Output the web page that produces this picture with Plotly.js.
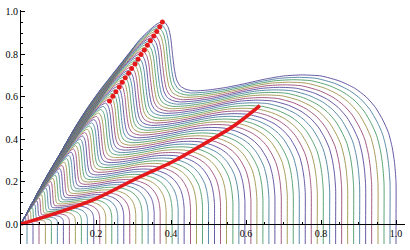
<!DOCTYPE html>
<html>
<head>
<meta charset="utf-8">
<script src="https://cdn.plot.ly/plotly-3.0.1.min.js"></script>
<style>html,body{margin:0;padding:0;background:#fff;}#chart{width:410px;height:250px;}</style>
</head>
<body>
<div id="chart"></div>
<script>
// Outermost curve of the family
const TEMPLATE_X = [0, 0.03, 0.07, 0.11, 0.148, 0.18, 0.211, 0.25, 0.29, 0.317, 0.34, 0.36, 0.372, 0.377, 0.385, 0.393, 0.399, 0.404, 0.409, 0.415, 0.425, 0.44, 0.46, 0.5, 0.55, 0.6, 0.65, 0.7, 0.75, 0.8, 0.85, 0.89, 0.92, 0.945, 0.965, 0.98, 0.99, 0.996, 1.0, 1.0];
const TEMPLATE_Y = [0, 0.1, 0.23, 0.35, 0.467, 0.555, 0.632, 0.72, 0.81, 0.87, 0.91, 0.94, 0.952, 0.955, 0.948, 0.925, 0.88, 0.8, 0.73, 0.68, 0.65, 0.635, 0.628, 0.632, 0.645, 0.663, 0.683, 0.698, 0.703, 0.698, 0.674, 0.64, 0.6, 0.55, 0.49, 0.43, 0.36, 0.29, 0.2, 0];
// How much each template point follows the rising-branch scale (1) vs the plateau scale (0)
const TEMPLATE_W = [1, 1, 1, 1, 1, 1, 1, 1, 1, 1, 1, 1, 1, 1, 0.95, 0.85, 0.65, 0.4, 0.2, 0.08, 0, 0, 0, 0, 0, 0, 0, 0, 0, 0, 0, 0, 0, 0, 0, 0, 0, 0, 0, 0];
// Width (x where each curve turns vertical) and plateau height factor of each curve
const WIDTHS = [0.016,0.032,0.048,0.065,0.081,0.097,0.113,0.129,0.145,0.161,0.177,0.194,0.210,0.226,0.242,0.258,0.274,0.290,0.306,0.323,0.339,0.355,0.371,0.387,0.403,0.419,0.435,0.452,0.468,0.484,0.500,0.516,0.532,0.548,0.565,0.581,0.597,0.613,0.629,0.645,0.661,0.677,0.694,0.710,0.726,0.742,0.758,0.774,0.790,0.806,0.823,0.839,0.855,0.871,0.887,0.903,0.919,0.935,0.952,0.968,0.984,1.000];
const HEIGHTS = [0.0039,0.0100,0.0175,0.0266,0.0361,0.0464,0.0575,0.0691,0.0814,0.0941,0.1074,0.1222,0.1363,0.1511,0.1661,0.1814,0.1971,0.2131,0.2295,0.2471,0.2640,0.2808,0.2982,0.3157,0.3332,0.3510,0.3690,0.3882,0.4066,0.4244,0.4430,0.4612,0.4800,0.4986,0.5179,0.5364,0.5549,0.5741,0.5921,0.6108,0.6294,0.6479,0.6676,0.6859,0.7040,0.7225,0.7404,0.7587,0.7765,0.7942,0.8131,0.8308,0.8481,0.8656,0.8828,0.8999,0.9168,0.9336,0.9512,0.9677,0.9839,1.000];
const CURVE_BOTTOM = -0.2;
// Red peak dots
const PEAK_X = [0.236,0.245,0.253,0.262,0.270,0.278,0.287,0.295,0.304,0.312,0.320,0.329,0.337,0.345,0.354,0.362,0.370,0.377];
const PEAK_Y = [0.580,0.602,0.624,0.646,0.668,0.690,0.711,0.733,0.755,0.777,0.799,0.821,0.843,0.864,0.886,0.908,0.930,0.952];
// Red lower locus
const RED_X = [0, 0.05, 0.1, 0.2, 0.317, 0.4, 0.495, 0.571, 0.637];
const RED_Y = [0, 0.027, 0.055, 0.12, 0.223, 0.29, 0.385, 0.467, 0.558];
// Ticks
const XTICKS = [0.2, 0.4, 0.6, 0.8, 1.0];
const XTICKTEXT = ["0.2", "0.4", "0.6", "0.8", "1.0"];
const YTICKS = [0, 0.2, 0.4, 0.6, 0.8, 1.0];
const YTICKTEXT = ["0.0", "0.2", "0.4", "0.6", "0.8", "1.0"];
const COLORS = ['#55489a', '#4a7f9e', '#4a9a66', '#9c924a', '#9a4a76'];

const traces = [];
const n = WIDTHS.length;
for (let k = 0; k < n; k++) {
  const sx = WIDTHS[k], sy = HEIGHTS[k];
  const xs = TEMPLATE_X.map(v => v * sx);
  const ys = TEMPLATE_Y.map((v, i) => v * (TEMPLATE_W[i] * sx + (1 - TEMPLATE_W[i]) * sy));
  xs.push(sx); ys.push(CURVE_BOTTOM);
  traces.push({
    x: xs, y: ys, type: 'scatter', mode: 'lines',
    line: {color: COLORS[(n - 1 - k) % COLORS.length], width: 0.9, shape: 'spline', smoothing: 0.6},
    hoverinfo: 'skip', showlegend: false
  });
}
traces.push({x: RED_X, y: RED_Y, type: 'scatter', mode: 'lines',
  line: {color: '#e5191b', width: 3.5, shape: 'spline'}, showlegend: false, hoverinfo: 'skip'});
traces.push({x: PEAK_X, y: PEAK_Y, type: 'scatter', mode: 'markers',
  marker: {color: '#e5191b', size: 5}, showlegend: false, hoverinfo: 'skip'});

const yMin = -0.094, yMax = 1.009;
const layout = {
  width: 410, height: 250,
  margin: {l: 21, r: 5, t: 10, b: 6},
  paper_bgcolor: '#fff', plot_bgcolor: '#fff',
  font: {family: 'Liberation Serif, serif', size: 10, color: '#000'},
  xaxis: {
    range: [0, 1.024], anchor: 'free', position: (0 - yMin) / (yMax - yMin),
    showgrid: false, zeroline: false, showline: true, linecolor: '#000', linewidth: 1,
    tickvals: XTICKS, ticktext: XTICKTEXT, ticks: 'inside', ticklen: 4, tickcolor: '#000', tickwidth: 1,
    minor: {ticks: 'inside', dtick: 0.05, tick0: 0, ticklen: 2, tickcolor: '#000', showgrid: false},
    tickfont: {family: 'Liberation Serif, serif', size: 10, color: '#000'}
  },
  yaxis: {
    range: [yMin, yMax],
    showgrid: false, zeroline: false, showline: true, linecolor: '#000', linewidth: 1,
    tickvals: YTICKS, ticktext: YTICKTEXT, ticks: 'inside', ticklen: 4, tickcolor: '#000', tickwidth: 1,
    minor: {ticks: 'inside', dtick: 0.05, tick0: 0, ticklen: 2, tickcolor: '#000', showgrid: false},
    tickfont: {family: 'Liberation Serif, serif', size: 10, color: '#000'}
  }
};
Plotly.newPlot('chart', traces, layout, {staticPlot: true, displayModeBar: false});
</script>
</body>
</html>
